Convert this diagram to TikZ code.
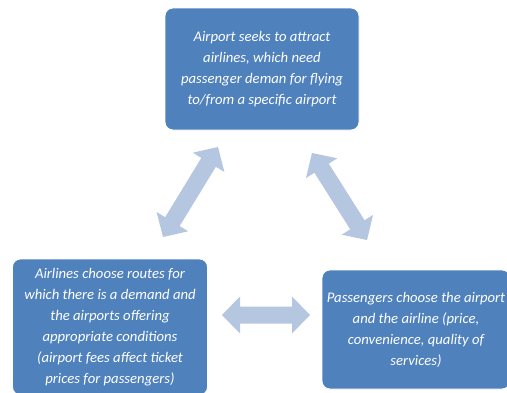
\documentclass[tikz,border=0pt]{standalone}
\usepackage{fontspec}
\setmainfont{Carlito}
\definecolor{boxblue}{HTML}{4F81BD}
\definecolor{arrowblue}{HTML}{B4C6E0}
\tikzset{
  stepbox/.style={rectangle, rounded corners=8pt, fill=boxblue, draw=white, line width=0.8pt,
    text=white, align=center, inner sep=0pt,
    font=\fontsize{14.7}{21}\selectfont\itshape},
  blockarrow/.style={fill=arrowblue}
}
\newcommand{\dblarrow}[1]{% #1 = half length
  \fill[blockarrow] (-#1,0) -- (-#1+18,18.5) -- (-#1+18,8.5) -- (#1-18,8.5) -- (#1-18,18.5)
    -- (#1,0) -- (#1-18,-18.5) -- (#1-18,-8.5) -- (-#1+18,-8.5) -- (-#1+18,-18.5) -- cycle;}
\begin{document}
\begin{tikzpicture}[x=1pt,y=-1pt]
\useasboundingbox (0,0) rectangle (507,392);
\clip (0,0) rectangle (507,392);
\node[stepbox, minimum width=194pt, minimum height=122pt] (top) at (262,69)
  {Airport seeks to attract\\airlines, which need\\passenger deman for flying\\to/from a specific airport};
\node[stepbox, minimum width=195pt, minimum height=136pt] (left) at (110,327)
  {Airlines choose routes for\\which there is a demand and\\the airports offering\\appropriate conditions\\(airport fees affect ticket\\prices for passengers)};
\node[stepbox, minimum width=188pt, minimum height=119pt] (right) at (416,329.5)
  {Passengers choose the airport\\and the airline (price,\\convenience, quality of\\services)};
% arrows
\coordinate (a1) at (190.5,192);
\coordinate (a2) at (339.5,196.5);
\coordinate (a3) at (266,315);
\begin{scope}[shift={(a1)}, rotate=58.6]\dblarrow{52.75}\end{scope}
\begin{scope}[shift={(a2)}, rotate=-57.7]\dblarrow{51.5}\end{scope}
\begin{scope}[shift={(a3)}]\dblarrow{44}\end{scope}
\end{tikzpicture}
\end{document}
